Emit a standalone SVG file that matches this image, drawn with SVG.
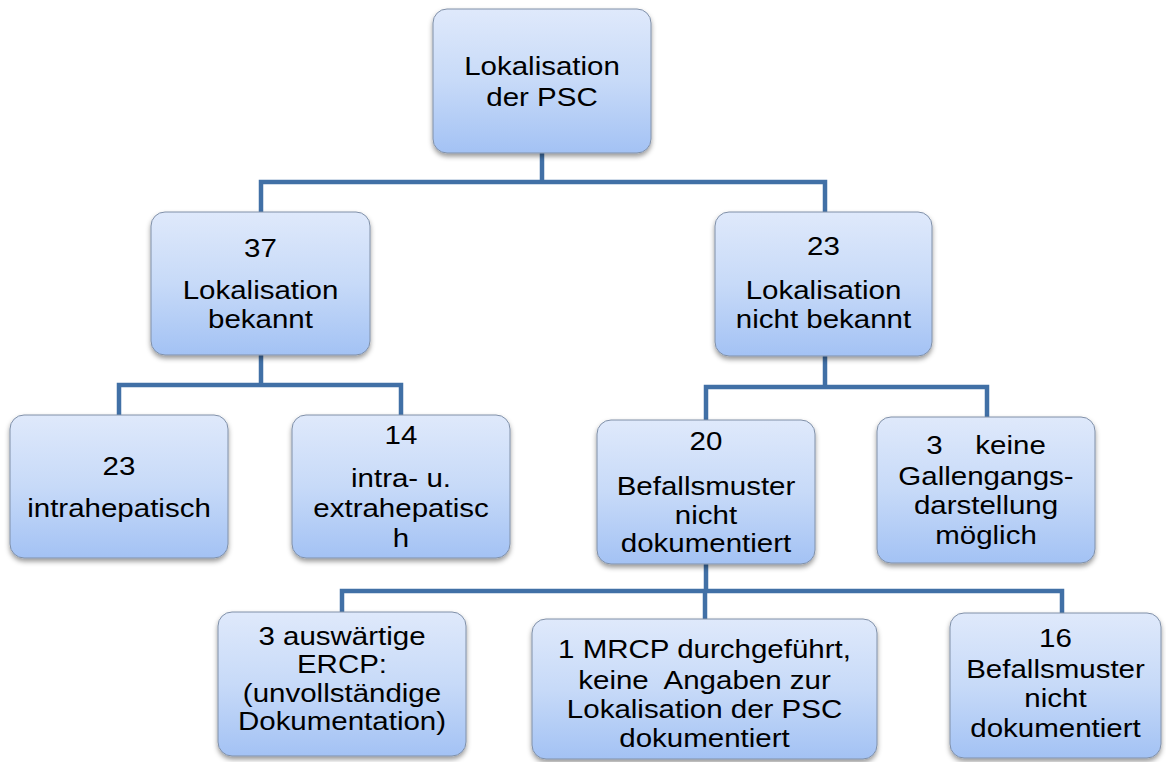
<svg xmlns="http://www.w3.org/2000/svg" width="1166" height="762" viewBox="0 0 1166 762">
<defs>
<linearGradient id="g" x1="0" y1="0" x2="0" y2="1">
<stop offset="0" stop-color="#dfe9fb"/>
<stop offset="0.5" stop-color="#c7daf8"/>
<stop offset="1" stop-color="#a3c2f4"/>
</linearGradient>
<filter id="sh" x="-10%" y="-10%" width="120%" height="130%">
<feDropShadow dx="0" dy="3" stdDeviation="2.5" flood-color="#000" flood-opacity="0.4"/>
</filter>
</defs>
<style>
.box{fill:url(#g);stroke:#8090a8;stroke-width:1;filter:url(#sh)}
.t{font-family:"Liberation Sans",Arial,sans-serif;font-size:25px;fill:#000;text-anchor:middle}
.c{fill:none;stroke:#4170a6;stroke-width:4.5}
</style>
<rect width="1166" height="762" fill="#fff"/>
<g id="connectors">
<path class="c" d="M542,153V182M261,212V182H825V212"/>
<path class="c" d="M261,355V385M119,415V385H401V415"/>
<path class="c" d="M825,356V387M706,420V387H987V417"/>
<path class="c" d="M706,564V591M342,612V591H1062V613M705,591V619"/>
</g>
<g id="n-root">
<rect class="box" x="433" y="9" width="218" height="144" rx="14"/>
<g transform="translate(542 0) scale(1.18 1)"><text class="t" x="0" y="75">Lokalisation</text><text class="t" x="0" y="106">der PSC</text></g>
</g>
<g id="n-bekannt">
<rect class="box" x="151" y="212" width="219" height="143" rx="14"/>
<g transform="translate(260.5 0) scale(1.18 1)"><text class="t" x="0" y="257">37</text><text class="t" x="0" y="299">Lokalisation</text><text class="t" x="0" y="328">bekannt</text></g>
</g>
<g id="n-nichtbekannt">
<rect class="box" x="715" y="212" width="217" height="144" rx="14"/>
<g transform="translate(823.5 0) scale(1.18 1)"><text class="t" x="0" y="255">23</text><text class="t" x="0" y="299">Lokalisation</text><text class="t" x="0" y="328">nicht bekannt</text></g>
</g>
<g id="n-intra">
<rect class="box" x="10" y="415" width="218" height="143" rx="14"/>
<g transform="translate(119 0) scale(1.18 1)"><text class="t" x="0" y="475">23</text><text class="t" x="0" y="517">intrahepatisch</text></g>
</g>
<g id="n-intraextra">
<rect class="box" x="292" y="415" width="218" height="143" rx="14"/>
<g transform="translate(401 0) scale(1.18 1)"><text class="t" x="0" y="444">14</text><text class="t" x="0" y="487">intra- u.</text><text class="t" x="0" y="517">extrahepatisc</text><text class="t" x="0" y="547">h</text></g>
</g>
<g id="n-befall20">
<rect class="box" x="597" y="420" width="218" height="144" rx="14"/>
<g transform="translate(706 0) scale(1.18 1)"><text class="t" x="0" y="450">20</text><text class="t" x="0" y="495">Befallsmuster</text><text class="t" x="0" y="524">nicht</text><text class="t" x="0" y="552">dokumentiert</text></g>
</g>
<g id="n-keine">
<rect class="box" x="877" y="417" width="218" height="146" rx="14"/>
<g transform="translate(986 0) scale(1.18 1)"><text class="t" x="0" y="454" xml:space="preserve">3    keine</text><text class="t" x="0" y="485">Gallengangs-</text><text class="t" x="0" y="514">darstellung</text><text class="t" x="0" y="544">möglich</text></g>
</g>
<g id="n-ercp">
<rect class="box" x="218" y="612" width="248" height="144" rx="14"/>
<g transform="translate(342 0) scale(1.18 1)"><text class="t" x="0" y="645">3 auswärtige</text><text class="t" x="0" y="673">ERCP:</text><text class="t" x="0" y="702">(unvollständige</text><text class="t" x="0" y="730">Dokumentation)</text></g>
</g>
<g id="n-mrcp">
<rect class="box" x="532" y="619" width="345" height="140" rx="14"/>
<g transform="translate(704.5 0) scale(1.18 1)"><text class="t" x="0" y="658">1 MRCP durchgeführt,</text><text class="t" x="0" y="689" xml:space="preserve">keine  Angaben zur</text><text class="t" x="0" y="718">Lokalisation der PSC</text><text class="t" x="0" y="747">dokumentiert</text></g>
</g>
<g id="n-befall16">
<rect class="box" x="950" y="613" width="211" height="145" rx="14"/>
<g transform="translate(1055.5 0) scale(1.18 1)"><text class="t" x="0" y="647">16</text><text class="t" x="0" y="678">Befallsmuster</text><text class="t" x="0" y="707">nicht</text><text class="t" x="0" y="737">dokumentiert</text></g>
</g>
</svg>
